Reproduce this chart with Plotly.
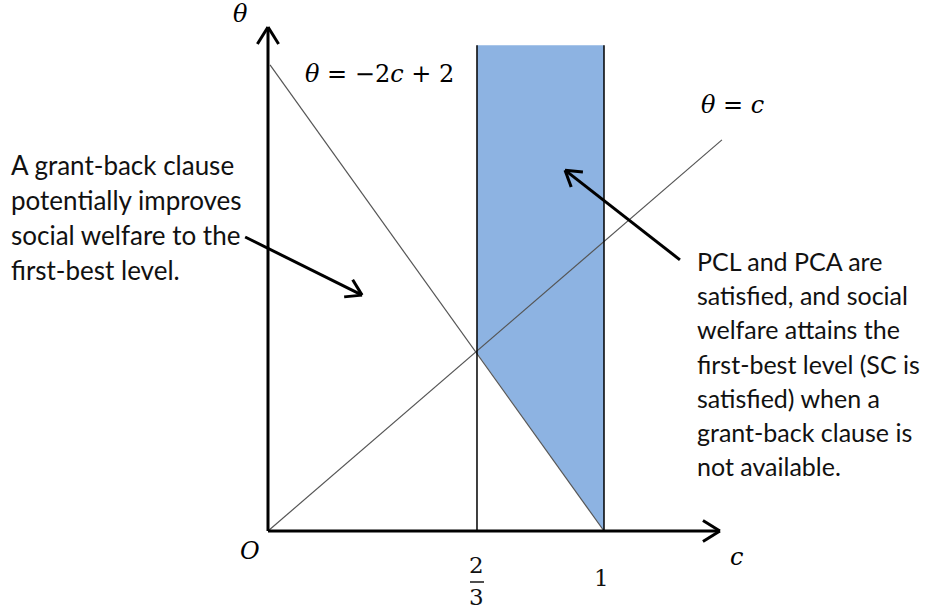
import numpy as np
import plotly.graph_objects as go

# values (c units on both axes, origin at O)
c_ticks = [0.622, 1.0]
c_tick_labels = ["2/3", "1"]
axis_c_end = 1.345
axis_theta_end = 1.5
steep_c = [0.006, 1.0]          # theta = -2c + 2
steep_theta = [1.387, 0.0]
diag_c = [0.0, 1.351]           # theta = c
diag_theta = [0.0, 1.164]
shade_c = [0.622, 1.0, 1.0, 0.622]
shade_theta = [1.446, 1.446, 0.0, 0.53]
band_top = 1.446
arrow_left = ([-0.068, 0.875], [0.280, 0.702])    # tail, head
arrow_right = ([1.226, 0.807], [0.884, 1.074])

left_note = [
    "A grant-back clause",
    "potentially improves",
    "social welfare to the",
    "first-best level.",
]
right_note = [
    "PCL and PCA are",
    "satisfied, and social",
    "welfare attains the",
    "first-best level (SC is",
    "satisfied) when a",
    "grant-back clause is",
    "not available.",
]

W, H = 933, 613
PX = 336.0          # pixels per unit
X0, Y0 = 268, 531   # pixel position of origin


def to_c(px):
    return (px - X0) / PX


def to_t(py):
    return (Y0 - py) / PX


fig = go.Figure()

# shaded band
fig.add_trace(go.Scatter(x=shade_c, y=shade_theta, fill="toself", mode="none",
                         fillcolor="#8DB3E2", hoverinfo="skip"))

thin = dict(color="#555555", width=1.2)
fig.add_trace(go.Scatter(x=steep_c, y=steep_theta, mode="lines", line=thin))
fig.add_trace(go.Scatter(x=diag_c, y=diag_theta, mode="lines", line=thin))

for cv in c_ticks:
    fig.add_trace(go.Scatter(x=[cv, cv], y=[0, band_top], mode="lines",
                             line=dict(color="black", width=1.5)))


def arrow(tail, head, width, arm=20, ang=32):
    x0, y0 = tail
    x1, y1 = head
    d = np.arctan2(y1 - y0, x1 - x0)
    L = arm / PX
    xs = [x0, x1, None]
    ys = [y0, y1, None]
    for s in (1, -1):
        a = d + np.pi - s * np.radians(ang)
        xs += [x1 + L * np.cos(a), x1, None]
        ys += [y1 + L * np.sin(a), y1, None]
    fig.add_trace(go.Scatter(x=xs, y=ys, mode="lines",
                             line=dict(color="black", width=width)))


arrow((0, 0), (axis_c_end, 0), 3)
arrow((0, 0), (0, axis_theta_end), 3)
arrow(*arrow_left, 3, arm=18)
arrow(*arrow_right, 3, arm=18)

# fraction bar of the 2/3 tick label
half = 7 / PX
fig.add_trace(go.Scatter(x=[c_ticks[0] - half, c_ticks[0] + half], y=[to_t(582)] * 2,
                         mode="lines", line=dict(color="#222222", width=1.6)))

ann = []
body_l = dict(family="Lato, sans-serif", size=26, color="#111111")
body_r = dict(family="Lato, sans-serif", size=25, color="#111111")
for i, line in enumerate(left_note):
    ann.append(dict(x=to_c(9), y=to_t(165 + 35 * i), text=line, xanchor="left",
                    yanchor="middle", font=body_l))
for i, line in enumerate(right_note):
    ann.append(dict(x=to_c(695), y=to_t(261 + 34.2 * i), text=line, xanchor="left",
                    yanchor="middle", font=body_r))

math = dict(family="DejaVu Serif, serif", size=24, color="black")
digits = dict(family="DejaVu Serif, serif", size=23, color="#111111")
ann.append(dict(x=to_c(240), y=to_t(14), text="<i>θ</i>", font=math))
ann.append(dict(x=to_c(379), y=to_t(74), text="<i>θ</i> = −2<i>c</i> + 2", font=math))
ann.append(dict(x=to_c(732), y=to_t(105), text="<i>θ</i> = <i>c</i>", font=math))
ann.append(dict(x=to_c(250), y=to_t(551), text="<i>O</i>", font=math))
ann.append(dict(x=to_c(736), y=to_t(557), text="<i>c</i>", font=math))
num, den = c_tick_labels[0].split("/")
ann.append(dict(x=c_ticks[0], y=to_t(565), text=num, font=digits))
ann.append(dict(x=c_ticks[0], y=to_t(597), text=den, font=digits))
ann.append(dict(x=to_c(601), y=to_t(578), text=c_tick_labels[1], font=digits))
for a in ann:
    a.update(showarrow=False, xref="x", yref="y")

fig.update_layout(
    width=W, height=H,
    margin=dict(l=0, r=0, t=0, b=0),
    paper_bgcolor="white", plot_bgcolor="white",
    showlegend=False,
    annotations=ann,
    xaxis=dict(range=[to_c(0), to_c(W)], visible=False, fixedrange=True),
    yaxis=dict(range=[to_t(H), to_t(0)], visible=False, fixedrange=True),
)
fig.write_html("out.html", config={"displayModeBar": False},
               post_script="document.body.style.margin='0';")
